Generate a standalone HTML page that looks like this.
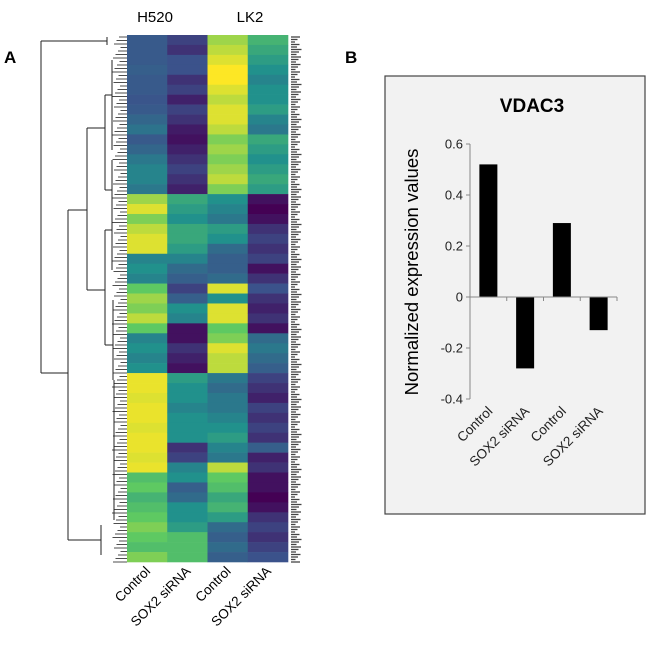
<!DOCTYPE html>
<html><head><meta charset="utf-8"><style>
body{margin:0;background:#fff;width:650px;height:641px;overflow:hidden}
svg text{font-family:"Liberation Sans",sans-serif}
</style></head><body>
<svg id="fig" width="650" height="641">
<text x="4" y="63" font-size="17" font-weight="bold">A</text>
<text x="345" y="63" font-size="17" font-weight="bold">B</text>
<text x="155" y="22" font-size="15" text-anchor="middle">H520</text>
<text x="250" y="22" font-size="15" text-anchor="middle">LK2</text>
<g id="heat"></g>
<g id="dend" stroke="#222" stroke-width="1" fill="none"></g>
<g id="rowlab"></g>
<g id="hx"></g>
<rect x="385" y="76" width="260" height="438" fill="#f2f2f2" stroke="#444" stroke-width="1.2"/>
<text x="532" y="112" font-size="19" font-weight="bold" text-anchor="middle">VDAC3</text>
<text transform="translate(418,272) rotate(-90)" font-size="18.5" text-anchor="middle">Normalized expression values</text>
<g id="bars"></g>
</svg>
<script>
const NS="http://www.w3.org/2000/svg";
function mk(t,a,p){const e=document.createElementNS(NS,t);for(const k in a)e.setAttribute(k,a[k]);p.appendChild(e);return e;}
// heatmap data
const heatCols=["Control","SOX2 siRNA","Control","SOX2 siRNA"];
const h520Control=[0.28,0.28,0.28,0.3,0.28,0.28,0.26,0.28,0.33,0.38,0.28,0.33,0.4,0.45,0.45,0.4,0.85,0.95,0.8,0.9,0.95,0.95,0.45,0.5,0.45,0.75,0.85,0.8,0.9,0.75,0.45,0.5,0.45,0.5,0.97,0.97,0.95,0.97,0.97,0.95,0.97,0.97,0.95,0.97,0.7,0.75,0.65,0.7,0.75,0.8,0.75,0.7,0.8];
const h520Sox2=[0.2,0.15,0.25,0.25,0.15,0.2,0.1,0.2,0.15,0.08,0.05,0.1,0.15,0.2,0.15,0.1,0.6,0.55,0.5,0.6,0.6,0.55,0.45,0.35,0.3,0.2,0.3,0.5,0.45,0.05,0.05,0.15,0.1,0.05,0.55,0.5,0.5,0.45,0.5,0.5,0.5,0.15,0.2,0.45,0.5,0.3,0.35,0.5,0.5,0.55,0.7,0.7,0.7];
const lk2Control=[0.85,0.9,0.95,1,1,0.95,0.9,0.95,0.95,0.9,0.8,0.85,0.8,0.85,0.9,0.8,0.5,0.45,0.4,0.55,0.5,0.35,0.3,0.3,0.35,0.95,0.5,0.95,0.95,0.75,0.8,0.95,0.9,0.9,0.4,0.35,0.4,0.4,0.45,0.5,0.55,0.45,0.4,0.9,0.75,0.7,0.6,0.65,0.55,0.35,0.3,0.35,0.3];
const lk2Sox2=[0.65,0.6,0.55,0.5,0.45,0.5,0.5,0.55,0.45,0.4,0.6,0.55,0.5,0.55,0.6,0.55,0.05,0.0,0.05,0.15,0.2,0.15,0.2,0.05,0.15,0.25,0.15,0.1,0.15,0.05,0.35,0.4,0.35,0.3,0.2,0.15,0.1,0.2,0.15,0.2,0.15,0.3,0.1,0.15,0.05,0.05,0.0,0.05,0.15,0.2,0.15,0.2,0.25];
const heatData=[h520Control,h520Sox2,lk2Control,lk2Sox2];
const stops=[[68,1,84],[59,82,139],[33,145,140],[94,201,98],[253,231,37]];
function vir(v){v=Math.max(0,Math.min(1,v))*4;const i=Math.min(3,Math.floor(v)),f=v-i;const a=stops[i],b=stops[i+1];return `rgb(${a.map((c,k)=>Math.round(c+(b[k]-c)*f)).join(',')})`;}
const hx0=127,hw=40.25,hy0=35,hy1=562;
const nRows=h520Control.length,rh=(hy1-hy0)/nRows;
const heat=document.getElementById('heat');
heatData.forEach((col,ci)=>col.forEach((v,ri)=>{
 const r=mk('rect',{x:hx0+ci*hw,y:hy0+ri*rh,width:hw+0.3,height:rh+0.3,fill:vir(v)},heat);
 
 
}));
const hxl=document.getElementById('hx');
heatCols.forEach((c,i)=>{
 const cx=hx0+i*hw+hw/2+4;
 const t=mk('text',{transform:`translate(${cx},572) rotate(-45)`,'font-size':13.5,'text-anchor':'end'},hxl);
 t.textContent=c;
 
 
});
// dendrogram (structure)
const d=document.getElementById('dend');
const segs=[[41,41,41,373],[41,41,107,41],[41,373,68,373],[68,210,68,540],[68,210,87,210],[68,540,101,540],[87,128,87,290],[87,128,105,128],[87,290,105,290],[105,95,105,190],[105,230,105,345],[101,525,101,555],[107,37,107,45],[105,95,112,95],[105,190,112,190],[105,230,112,230],[105,345,113,345],[112,60,112,150],[112,160,112,220],[112,200,112,270],[113,300,113,380],[114,380,114,520]];
segs.forEach(s=>{const l=mk('line',{x1:s[0],y1:s[1],x2:s[2],y2:s[3]},d);});
for(let y=37;y<=562;y+=3.5){
 const x=112+((y*7)%9);
 const l=mk('line',{x1:x,y1:y,x2:127,y2:y,'stroke-width':0.8},d);
 
 
}
const rl=document.getElementById('rowlab');
for(let y=37;y<=562;y+=2.5){
 const w=4+((y*13)%7);
 const l=mk('line',{x1:291,y1:y,x2:291+w,y2:y,stroke:'#444','stroke-width':1.3},rl);
 
 
}
// bar chart
const barCats=["Control","SOX2 siRNA","Control","SOX2 siRNA"];
const barVals=[0.52,-0.28,0.29,-0.13];
const yTicks=[0.6,0.4,0.2,0,-0.2,-0.4];
const yTickLabels=["0.6","0.4","0.2","0","-0.2","-0.4"];
const ax0=470,ax1=617,y0=297,pxPer=255;
const Y=v=>y0-v*pxPer;
const cw=(ax1-ax0)/barCats.length;
const X=i=>ax0+cw*(i+0.5);
const g=document.getElementById('bars');
barVals.forEach((v,i)=>{
 const r=mk('rect',{x:X(i)-9,y:Math.min(Y(v),Y(0)),width:18,height:Math.abs(Y(v)-Y(0)),fill:'#000'},g);
 
 
});
const ya=mk('line',{x1:ax0,y1:Y(0.6),x2:ax0,y2:Y(-0.4),stroke:'#888'},g);


const xa=mk('line',{x1:ax0,y1:Y(0),x2:ax1,y2:Y(0),stroke:'#888'},g);


yTicks.forEach((v,i)=>{
 mk('line',{x1:ax0-4,y1:Y(v),x2:ax0,y2:Y(v),stroke:'#888'},g);
 const t=mk('text',{x:ax0-7,y:Y(v)+4.5,'font-size':13,'text-anchor':'end',fill:'#222'},g);
 t.textContent=yTickLabels[i];
 
 
});
for(let i=0;i<=barCats.length;i++)mk('line',{x1:ax0+cw*i,y1:Y(0),x2:ax0+cw*i,y2:Y(0)+4,stroke:'#888'},g);
barCats.forEach((c,i)=>{
 const t=mk('text',{transform:`translate(${X(i)+5},412) rotate(-45)`,'font-size':13.5,'text-anchor':'end',fill:'#222'},g);
 t.textContent=c;
 
 
});
</script>
</body></html>
